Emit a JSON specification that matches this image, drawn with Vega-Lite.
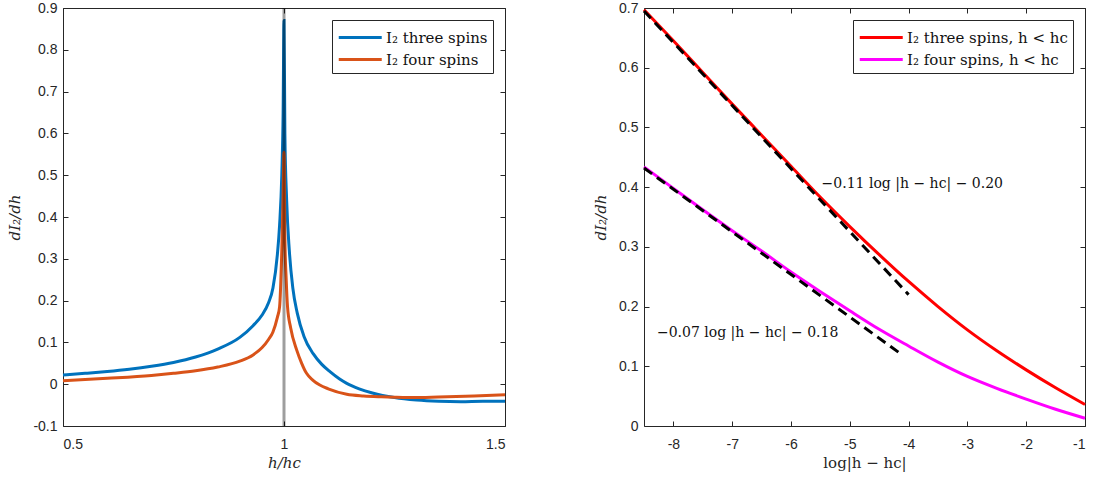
{
  "$schema": "https://vega.github.io/schema/vega-lite/v6.json",
  "background": "white",
  "padding": {"left": 7, "top": 0, "right": 8, "bottom": 5},
  "datasets": {
    "left": [
      {"h": 0.5, "v": 0.022, "series": "I₂ three spins"},
      {"h": 0.55, "v": 0.026, "series": "I₂ three spins"},
      {"h": 0.6, "v": 0.0305, "series": "I₂ three spins"},
      {"h": 0.65, "v": 0.036, "series": "I₂ three spins"},
      {"h": 0.7, "v": 0.043, "series": "I₂ three spins"},
      {"h": 0.75, "v": 0.052, "series": "I₂ three spins"},
      {"h": 0.8, "v": 0.065, "series": "I₂ three spins"},
      {"h": 0.85, "v": 0.084, "series": "I₂ three spins"},
      {"h": 0.9, "v": 0.112, "series": "I₂ three spins"},
      {"h": 0.93, "v": 0.14, "series": "I₂ three spins"},
      {"h": 0.95, "v": 0.165, "series": "I₂ three spins"},
      {"h": 0.965, "v": 0.195, "series": "I₂ three spins"},
      {"h": 0.975, "v": 0.23, "series": "I₂ three spins"},
      {"h": 0.985, "v": 0.31, "series": "I₂ three spins"},
      {"h": 0.99, "v": 0.38, "series": "I₂ three spins"},
      {"h": 0.995, "v": 0.5, "series": "I₂ three spins"},
      {"h": 0.998, "v": 0.65, "series": "I₂ three spins"},
      {"h": 1.0, "v": 0.87, "series": "I₂ three spins"},
      {"h": 1.002, "v": 0.6, "series": "I₂ three spins"},
      {"h": 1.006, "v": 0.44, "series": "I₂ three spins"},
      {"h": 1.012, "v": 0.32, "series": "I₂ three spins"},
      {"h": 1.02, "v": 0.23, "series": "I₂ three spins"},
      {"h": 1.03, "v": 0.17, "series": "I₂ three spins"},
      {"h": 1.045, "v": 0.115, "series": "I₂ three spins"},
      {"h": 1.066, "v": 0.073, "series": "I₂ three spins"},
      {"h": 1.085, "v": 0.048, "series": "I₂ three spins"},
      {"h": 1.104, "v": 0.03, "series": "I₂ three spins"},
      {"h": 1.125, "v": 0.013, "series": "I₂ three spins"},
      {"h": 1.142, "v": 0.002, "series": "I₂ three spins"},
      {"h": 1.17, "v": -0.011, "series": "I₂ three spins"},
      {"h": 1.2, "v": -0.021, "series": "I₂ three spins"},
      {"h": 1.25, "v": -0.032, "series": "I₂ three spins"},
      {"h": 1.3, "v": -0.038, "series": "I₂ three spins"},
      {"h": 1.35, "v": -0.041, "series": "I₂ three spins"},
      {"h": 1.4, "v": -0.042, "series": "I₂ three spins"},
      {"h": 1.45, "v": -0.041, "series": "I₂ three spins"},
      {"h": 1.5, "v": -0.041, "series": "I₂ three spins"},
      {"h": 0.5, "v": 0.008, "series": "I₂ four spins"},
      {"h": 0.6, "v": 0.014, "series": "I₂ four spins"},
      {"h": 0.7, "v": 0.021, "series": "I₂ four spins"},
      {"h": 0.75, "v": 0.026, "series": "I₂ four spins"},
      {"h": 0.8, "v": 0.032, "series": "I₂ four spins"},
      {"h": 0.85, "v": 0.041, "series": "I₂ four spins"},
      {"h": 0.9, "v": 0.055, "series": "I₂ four spins"},
      {"h": 0.93, "v": 0.07, "series": "I₂ four spins"},
      {"h": 0.95, "v": 0.087, "series": "I₂ four spins"},
      {"h": 0.965, "v": 0.107, "series": "I₂ four spins"},
      {"h": 0.975, "v": 0.125, "series": "I₂ four spins"},
      {"h": 0.985, "v": 0.16, "series": "I₂ four spins"},
      {"h": 0.99, "v": 0.185, "series": "I₂ four spins"},
      {"h": 0.995, "v": 0.32, "series": "I₂ four spins"},
      {"h": 0.998, "v": 0.45, "series": "I₂ four spins"},
      {"h": 1.0, "v": 0.555, "series": "I₂ four spins"},
      {"h": 1.002, "v": 0.35, "series": "I₂ four spins"},
      {"h": 1.005, "v": 0.25, "series": "I₂ four spins"},
      {"h": 1.008, "v": 0.185, "series": "I₂ four spins"},
      {"h": 1.015, "v": 0.135, "series": "I₂ four spins"},
      {"h": 1.029, "v": 0.081, "series": "I₂ four spins"},
      {"h": 1.04, "v": 0.05, "series": "I₂ four spins"},
      {"h": 1.051, "v": 0.026, "series": "I₂ four spins"},
      {"h": 1.065, "v": 0.01, "series": "I₂ four spins"},
      {"h": 1.081, "v": -0.002, "series": "I₂ four spins"},
      {"h": 1.1, "v": -0.011, "series": "I₂ four spins"},
      {"h": 1.142, "v": -0.024, "series": "I₂ four spins"},
      {"h": 1.18, "v": -0.028, "series": "I₂ four spins"},
      {"h": 1.22, "v": -0.03, "series": "I₂ four spins"},
      {"h": 1.25, "v": -0.031, "series": "I₂ four spins"},
      {"h": 1.3, "v": -0.032, "series": "I₂ four spins"},
      {"h": 1.37, "v": -0.03, "series": "I₂ four spins"},
      {"h": 1.43, "v": -0.028, "series": "I₂ four spins"},
      {"h": 1.5, "v": -0.025, "series": "I₂ four spins"}
    ],
    "vline": [{"h": 1}],
    "right": [
      {"x": -8.5, "v": 0.697, "series": "I₂ three spins, h < hc"},
      {"x": -8, "v": 0.645, "series": "I₂ three spins, h < hc"},
      {"x": -7.5, "v": 0.592, "series": "I₂ three spins, h < hc"},
      {"x": -7, "v": 0.539, "series": "I₂ three spins, h < hc"},
      {"x": -6.5, "v": 0.487, "series": "I₂ three spins, h < hc"},
      {"x": -6, "v": 0.435, "series": "I₂ three spins, h < hc"},
      {"x": -5.5, "v": 0.383, "series": "I₂ three spins, h < hc"},
      {"x": -5, "v": 0.334, "series": "I₂ three spins, h < hc"},
      {"x": -4.5, "v": 0.287, "series": "I₂ three spins, h < hc"},
      {"x": -4, "v": 0.242, "series": "I₂ three spins, h < hc"},
      {"x": -3.5, "v": 0.2, "series": "I₂ three spins, h < hc"},
      {"x": -3, "v": 0.161, "series": "I₂ three spins, h < hc"},
      {"x": -2.5, "v": 0.126, "series": "I₂ three spins, h < hc"},
      {"x": -2, "v": 0.094, "series": "I₂ three spins, h < hc"},
      {"x": -1.5, "v": 0.064, "series": "I₂ three spins, h < hc"},
      {"x": -1, "v": 0.036, "series": "I₂ three spins, h < hc"},
      {"x": -8.5, "v": 0.434, "series": "I₂ four spins, h < hc"},
      {"x": -8, "v": 0.398, "series": "I₂ four spins, h < hc"},
      {"x": -7.5, "v": 0.362, "series": "I₂ four spins, h < hc"},
      {"x": -7, "v": 0.327, "series": "I₂ four spins, h < hc"},
      {"x": -6.5, "v": 0.293, "series": "I₂ four spins, h < hc"},
      {"x": -6, "v": 0.258, "series": "I₂ four spins, h < hc"},
      {"x": -5.5, "v": 0.225, "series": "I₂ four spins, h < hc"},
      {"x": -5, "v": 0.193, "series": "I₂ four spins, h < hc"},
      {"x": -4.5, "v": 0.162, "series": "I₂ four spins, h < hc"},
      {"x": -4, "v": 0.134, "series": "I₂ four spins, h < hc"},
      {"x": -3.5, "v": 0.107, "series": "I₂ four spins, h < hc"},
      {"x": -3, "v": 0.083, "series": "I₂ four spins, h < hc"},
      {"x": -2.5, "v": 0.063, "series": "I₂ four spins, h < hc"},
      {"x": -2, "v": 0.045, "series": "I₂ four spins, h < hc"},
      {"x": -1.5, "v": 0.028, "series": "I₂ four spins, h < hc"},
      {"x": -1, "v": 0.013, "series": "I₂ four spins, h < hc"}
    ],
    "fits": [
      {"x": -8.5, "v": 0.695, "fit": "three"},
      {"x": -4.0, "v": 0.22, "fit": "three"},
      {"x": -8.5, "v": 0.432, "fit": "four"},
      {"x": -4.15, "v": 0.122, "fit": "four"}
    ],
    "notes": [
      {"x": -5.48, "v": 0.406, "label": "−0.11 log |h − hc| − 0.20"},
      {"x": -8.28, "v": 0.156, "label": "−0.07 log |h − hc| − 0.18"}
    ]
  },
  "config": {
    "view": {"stroke": "#262626", "strokeWidth": 1},
    "axis": {
      "domain": false, "grid": false,
      "tickColor": "#262626", "tickSize": -5, "tickWidth": 1,
      "labelFont": "Liberation Sans", "labelFontSize": 14, "labelColor": "#262626",
      "titleFont": "DejaVu Serif", "titleFontSize": 15, "titleColor": "#262626",
      "titleFontWeight": "normal", "titleFontStyle": "italic"
    },
    "axisX": {"labelPadding": 16, "titlePadding": 4},
    "axisY": {"labelPadding": 11, "titlePadding": 10},
    "legend": {
      "orient": "top-right", "offset": 12,
      "strokeColor": "#262626", "fillColor": "white", "padding": 5, "cornerRadius": 0,
      "symbolType": "M -1 0 L 3 0", "symbolSize": 462, "symbolStrokeWidth": 3,
      "labelFont": "DejaVu Serif", "labelFontSize": 15, "labelColor": "#111111",
      "labelLimit": 400, "rowPadding": 1, "labelOffset": 24
    }
  },
  "resolve": {"scale": {"color": "independent"}, "legend": {"color": "independent"}},
  "spacing": 81,
  "hconcat": [
    {
      "width": 442, "height": 418,
      "resolve": {"axis": {"x": "independent", "y": "independent"}},
      "layer": [
        {
          "data": {"name": "left"},
          "mark": {"type": "line", "strokeWidth": 3, "interpolate": "monotone"},
          "encoding": {
            "x": {"field": "h", "type": "quantitative",
                  "scale": {"domain": [0.5, 1.5], "nice": false, "zero": false},
                  "axis": {"values": [0.5, 1, 1.5], "labelExpr": "datum.value + ''", "title": "h/hc"}},
            "y": {"field": "v", "type": "quantitative",
                  "scale": {"domain": [-0.1, 0.9], "nice": false, "zero": false},
                  "axis": {"values": [-0.1, 0, 0.1, 0.2, 0.3, 0.4, 0.5, 0.6, 0.7, 0.8, 0.9], "labelExpr": "datum.value + ''", "title": "dI₂/dh"}},
            "color": {"field": "series", "type": "nominal",
                      "scale": {"domain": ["I₂ three spins", "I₂ four spins"], "range": ["#0072BD", "#D95319"]},
                      "legend": {"title": null}}
          }
        },
        {
          "data": {"name": "vline"},
          "mark": {"type": "rule", "color": "#000000", "opacity": 0.38, "strokeWidth": 3},
          "encoding": {
            "x": {"field": "h", "type": "quantitative",
                  "axis": {"orient": "top", "values": [0.5, 1, 1.5], "labels": false, "title": null}},
            "y": {"datum": -0.1, "type": "quantitative",
                  "axis": {"orient": "right", "values": [-0.1, 0, 0.1, 0.2, 0.3, 0.4, 0.5, 0.6, 0.7, 0.8, 0.9], "labels": false, "title": null}},
            "y2": {"datum": 0.9}
          }
        }
      ]
    },
    {
      "width": 441, "height": 418,
      "resolve": {"axis": {"x": "independent", "y": "independent"}},
      "layer": [
        {
          "data": {"name": "right"},
          "mark": {"type": "line", "strokeWidth": 3, "interpolate": "monotone"},
          "encoding": {
            "x": {"field": "x", "type": "quantitative",
                  "scale": {"domain": [-8.5, -1], "nice": false, "zero": false},
                  "axis": {"values": [-8, -7, -6, -5, -4, -3, -2, -1], "labelExpr": "datum.value + ''", "title": "log|h − hc|", "titleFontStyle": "normal"}},
            "y": {"field": "v", "type": "quantitative",
                  "scale": {"domain": [0, 0.7], "nice": false, "zero": false},
                  "axis": {"values": [0, 0.1, 0.2, 0.3, 0.4, 0.5, 0.6, 0.7], "labelExpr": "datum.value + ''", "title": "dI₂/dh"}},
            "color": {"field": "series", "type": "nominal",
                      "scale": {"domain": ["I₂ three spins, h < hc", "I₂ four spins, h < hc"], "range": ["#FF0000", "#FF00FF"]},
                      "legend": {"title": null}}
          }
        },
        {
          "data": {"name": "fits"},
          "mark": {"type": "line", "color": "#000000", "strokeWidth": 3, "strokeDash": [10, 6]},
          "encoding": {
            "x": {"field": "x", "type": "quantitative",
                  "axis": {"orient": "top", "values": [-8, -7, -6, -5, -4, -3, -2, -1], "labels": false, "title": null}},
            "y": {"field": "v", "type": "quantitative",
                  "axis": {"orient": "right", "values": [0, 0.1, 0.2, 0.3, 0.4, 0.5, 0.6, 0.7], "labels": false, "title": null}},
            "detail": {"field": "fit", "type": "nominal"}
          }
        },
        {
          "data": {"name": "notes"},
          "mark": {"type": "text", "align": "left", "baseline": "middle", "font": "DejaVu Serif", "fontSize": 14, "color": "#111111"},
          "encoding": {
            "x": {"field": "x", "type": "quantitative", "axis": null},
            "y": {"field": "v", "type": "quantitative", "axis": null},
            "text": {"field": "label"}
          }
        }
      ]
    }
  ]
}
